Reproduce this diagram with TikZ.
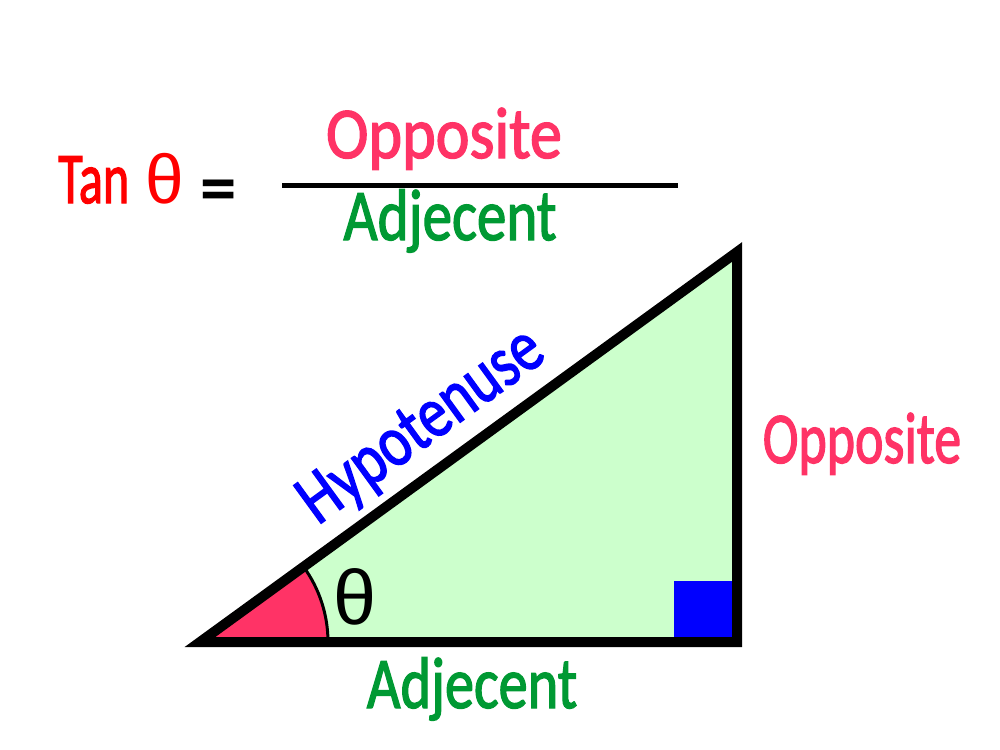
\documentclass[tikz,border=0pt]{standalone}
\usepackage{fontspec}
\setmainfont{Carlito}
\newfontfamily\lblfont{Carlito}[FakeBold=2]
\newfontfamily\thetafont{Liberation Sans}
\definecolor{tgreen}{HTML}{CCFFCC}
\definecolor{tpink}{HTML}{FF3366}
\definecolor{tdkgreen}{HTML}{009933}
\definecolor{tblue}{HTML}{0000FF}
\begin{document}
\begin{tikzpicture}[x=0.75pt,y=-0.75pt,
  lbl/.style={inner sep=0pt, anchor=base, font=\lblfont\fontsize{54.6pt}{60pt}\selectfont},
  side/.style={line width=7.5pt, line join=miter},
  anglearc/.style={line width=2.25pt}
]
\useasboundingbox (0,0) rectangle (1000,750);
\coordinate (A) at (200,642);
\coordinate (B) at (737,642);
\coordinate (C) at (737,252);
\coordinate (R) at (328,642);
% fills
\fill[tgreen] (A) -- (B) -- (C) -- cycle;
\fill[tpink] (A) -- (R) arc[start angle=0,end angle=-36,radius=128] -- cycle;
\fill[tblue] (674,581) rectangle (732,637);
\draw[anglearc] (R) arc[start angle=0,end angle=-36,radius=128];
\draw[side] (A) -- (B) -- (C) -- cycle;
% angle label
\node[inner sep=0pt, font=\thetafont\fontsize{58pt}{60pt}\selectfont] (th) at (355,597) {θ};
% formula
\node[lbl, anchor=base west, text=red] (tan) at (58,203) {\scalebox{0.69}[1]{Tan}\hspace{12pt}{\thetafont\fontsize{52pt}{60pt}\selectfont θ}};
\node[lbl, font=\fontsize{54.6pt}{60pt}\selectfont\bfseries] (eq) at (219,212) {=};
\coordinate (f1) at (282,185.5);
\coordinate (f2) at (678,185.5);
\draw[line width=3.75pt] (f1) -- (f2);
\node[lbl, text=tpink] (num) at (444,158) {\scalebox{0.88}[1]{Opposite}};
\node[lbl, text=tdkgreen] (den) at (450,240) {\scalebox{0.81}[1]{Adjecent}};
% side labels
\node[lbl, text=tpink] (opp) at (862,463) {\scalebox{0.74}[1]{Opposite}};
\node[lbl, text=tdkgreen] (adj) at (472,708) {\scalebox{0.8}[1]{Adjecent}};
\node[lbl, text=tblue, rotate=36] (hyp) at (433,442) {\scalebox{0.8}[1]{Hypotenuse}};
\end{tikzpicture}
\end{document}
